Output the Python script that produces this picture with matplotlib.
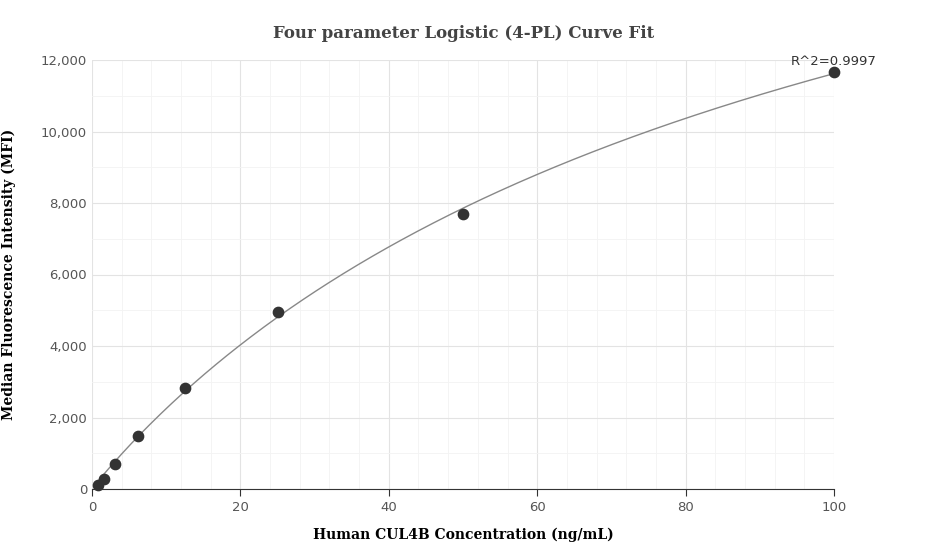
import numpy as np
import matplotlib
matplotlib.use("Agg")
import matplotlib.pyplot as plt
from matplotlib.ticker import FuncFormatter, MultipleLocator

conc = [0.78, 1.56, 3.125, 6.25, 12.5, 25, 50, 100]
mfi = [112, 280, 700, 1480, 2825, 4950, 7690, 11660]
r2_label = "R^2=0.9997"

x = np.array(conc); y = np.array(mfi)
best = None
for B in np.linspace(0.5, 1.5, 101):
    for C in np.logspace(1, 4, 301):
        f = (x / C) ** B / (1 + (x / C) ** B)
        D = (f @ y) / (f @ f)
        err = np.sum((D * f - y) ** 2)
        if best is None or err < best[0]:
            best = (err, B, C, D)
_, B, C, D = best
xs = np.linspace(min(conc), max(conc), 400)
ys = D * (xs / C) ** B / (1 + (xs / C) ** B)

fig = plt.figure(figsize=(9.27, 5.6), dpi=100)
ax = fig.add_axes([92/927, 71/560, 742/927, 429/560])
ax.plot(xs, ys, color="#888888", lw=1)
ax.scatter(conc, mfi, s=55, color="#333333", zorder=3, clip_on=False)
ax.set_xlim(0, 100); ax.set_ylim(0, 12000)
ax.xaxis.set_major_locator(MultipleLocator(20))
ax.xaxis.set_minor_locator(MultipleLocator(4))
ax.yaxis.set_major_locator(MultipleLocator(2000))
ax.yaxis.set_minor_locator(MultipleLocator(1000))
ax.yaxis.set_major_formatter(FuncFormatter(lambda v, p: f"{int(v):,}"))
ax.grid(which="major", color="#e3e3e3", lw=0.8)
ax.grid(which="minor", color="#f3f3f3", lw=0.6)
ax.set_axisbelow(True)
for s in ["top", "right", "left"]:
    ax.spines[s].set_visible(False)
ax.spines["bottom"].set_color("#333333")
ax.tick_params(which="both", length=0, labelsize=9.5, labelcolor="#555555")
ax.tick_params(axis="x", which="major", length=5, color="#333333")
ax.text(100, 11660 + 130, r2_label, ha="center", va="bottom", fontsize=9.5, color="#333333")
ax.set_xlabel("Human CUL4B Concentration (ng/mL)", fontfamily="DejaVu Serif", fontweight="bold", fontsize=10, labelpad=10)
ax.set_ylabel("Median Fluorescence Intensity (MFI)", fontfamily="DejaVu Serif", fontweight="bold", fontsize=10, labelpad=18)
fig.text(0.5, 1 - 33/560, "Four parameter Logistic (4-PL) Curve Fit", ha="center", va="center",
         fontfamily="DejaVu Serif", fontweight="bold", fontsize=12, color="#444444")
fig.savefig("out.png", dpi=100)
